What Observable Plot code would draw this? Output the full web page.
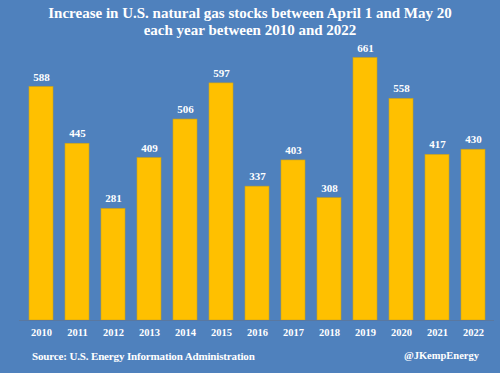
<!DOCTYPE html>
<html>
<head>
<meta charset="utf-8">
<script src="https://cdn.jsdelivr.net/npm/d3@7"></script>
<script src="https://cdn.jsdelivr.net/npm/@observablehq/plot@0.6"></script>
<style>
  html, body { margin: 0; padding: 0; background: #4f81bd; width: 500px; height: 373px; overflow: hidden; }
  body { font-family: "Liberation Serif", "DejaVu Serif", serif; color: #fff; font-weight: bold; }
  #title { height: 42px; box-sizing: border-box; padding-top: 5px; text-align: center; font-size: 15px; line-height: 16.5px; }
  #chart svg { display: block; overflow: visible; }
  #foot { position: relative; height: 31px; font-size: 11px; }
  #foot .l { position: absolute; left: 32px; top: 8px; letter-spacing: -0.15px; }
  #foot .r { position: absolute; right: 21px; top: 8px; font-size: 10.5px; }
</style>
</head>
<body>
<div id="title">Increase in U.S. natural gas stocks between April 1 and May 20<br>each year between 2010 and 2022</div>
<div id="chart"></div>
<div id="foot"><span class="l">Source: U.S. Energy Information Administration</span><span class="r">@JKempEnergy</span></div>
<script>
const years = ["2010","2011","2012","2013","2014","2015","2016","2017","2018","2019","2020","2021","2022"];
const increases = [588, 445, 281, 409, 506, 597, 337, 403, 308, 661, 558, 417, 430];

const data = years.map((y, i) => ({year: y, value: increases[i]}));

const plot = Plot.plot({
  width: 500,
  height: 300,
  marginLeft: 19,
  marginRight: 6,
  marginTop: 0,
  marginBottom: 22,
  style: {background: "transparent", color: "#fff", fontFamily: "Liberation Serif, DejaVu Serif, serif", fontWeight: "bold", overflow: "visible"},
  x: {domain: years, paddingInner: 0.34, paddingOuter: 0.17, label: null, tickSize: 0, tickPadding: 8},
  y: {domain: [0, 700], axis: null},
  marks: [
    Plot.barY(data, {x: "year", y: "value", fill: "#ffc000", stroke: "#c9a21a", strokeWidth: 0.6}),
    Plot.text(data, {x: "year", y: "value", text: d => String(d.value), dy: -10, fill: "#fff", fontSize: 11, fontWeight: "bold"}),
    Plot.ruleY([0], {stroke: "#5a78a0", strokeWidth: 1}),
    Plot.axisX({tickSize: 0, tickPadding: 8, fontSize: 10.5, fontWeight: "bold", label: null})
  ]
});
document.getElementById("chart").appendChild(plot);
</script>
</body>
</html>
